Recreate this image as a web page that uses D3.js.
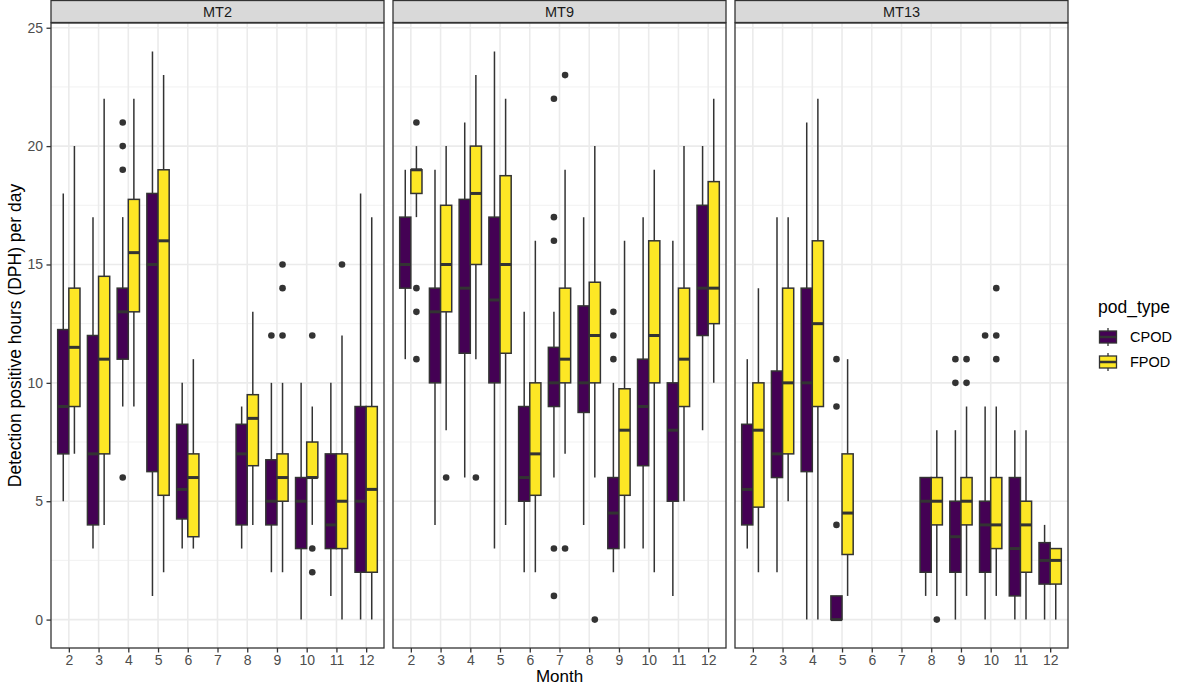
<!DOCTYPE html>
<html>
<head>
<meta charset="utf-8">
<script src="https://cdn.jsdelivr.net/npm/d3@7"></script>
<style>
  html, body { margin: 0; padding: 0; background: #ffffff; }
  svg { display: block; font-family: "Liberation Sans", Arial, sans-serif; }
</style>
</head>
<body>
<svg id="chart" width="1179" height="686"></svg>
<script>
// ---- data -------------------------------------------------------------
const sites = ["MT2", "MT9", "MT13"];
const months = [2, 3, 4, 5, 6, 7, 8, 9, 10, 11, 12];
const podTypes = ["CPOD", "FPOD"];
const podColors = ["#440154", "#FDE725"];
const yTicks = [0, 5, 10, 15, 20, 25];
const yMinorTicks = [2.5, 7.5, 12.5, 17.5, 22.5];

// box statistics per month: [month, lower whisker, Q1, median, Q3, upper whisker]
const mt2CPOD = [
  [2, 5, 7, 9, 12.25, 18], [3, 3, 4, 7, 12, 17], [4, 9, 11, 13, 14, 17],
  [5, 1, 6.25, 15, 18, 24], [6, 3, 4.25, 5.5, 8.25, 10], [8, 3, 4, 7, 8.25, 9],
  [9, 2, 4, 5, 6.75, 10], [10, 0, 3, 5, 6, 10], [11, 1, 3, 4, 7, 10],
  [12, 0, 2, 5, 9, 18]
];
const mt2FPOD = [
  [2, 7, 9, 11.5, 14, 20], [3, 4, 7, 11, 14.5, 22], [4, 9, 13, 15.5, 17.75, 22],
  [5, 2, 5.25, 16, 19, 23], [6, 3, 3.5, 6, 7, 11], [8, 4, 6.5, 8.5, 9.5, 13],
  [9, 2, 5, 6, 7, 10], [10, 4, 6, 6, 7.5, 9], [11, 0, 3, 5, 7, 12],
  [12, 0, 2, 5.5, 9, 17]
];
const mt9CPOD = [
  [2, 11, 14, 15, 17, 19], [3, 4, 10, 13, 14, 19], [4, 6, 11.25, 14, 17.75, 21],
  [5, 3, 10, 13.5, 17, 24], [6, 2, 5, 6, 9, 13], [7, 6, 9, 10, 11.5, 13],
  [8, 4, 8.75, 10, 13.25, 17], [9, 2, 3, 4.5, 6, 10], [10, 3, 6.5, 9, 11, 17],
  [11, 1, 5, 8, 10, 16], [12, 8, 12, 14, 17.5, 20]
];
const mt9FPOD = [
  [2, 17, 18, 19, 19, 20], [3, 8, 13, 15, 17.5, 20], [4, 11, 15, 18, 20, 23],
  [5, 4, 11.25, 15, 18.75, 22], [6, 2, 5.25, 7, 10, 16], [7, 7, 10, 11, 14, 19],
  [8, 6, 10, 12, 14.25, 20], [9, 3, 5.25, 8, 9.75, 16], [10, 2, 10, 12, 16, 19],
  [11, 5, 9, 11, 14, 20], [12, 10, 12.5, 14, 18.5, 22]
];
const mt13CPOD = [
  [2, 3, 4, 5.5, 8.25, 11], [3, 2, 6, 7, 10.5, 17], [4, 0, 6.25, 10, 14, 21],
  [5, 0, 0, 0, 1, 1], [8, 1, 2, 5, 6, 6], [9, 0, 2, 3.5, 5, 8],
  [10, 0, 2, 4, 5, 9], [11, 0, 1, 3, 6, 8], [12, 0, 1.5, 2.5, 3.25, 4]
];
const mt13FPOD = [
  [2, 2, 4.75, 8, 10, 14], [3, 5, 7, 10, 14, 17], [4, 0, 9, 12.5, 16, 22],
  [5, 1, 2.75, 4.5, 7, 11], [8, 1, 4, 5, 6, 8], [9, 1, 4, 5, 6, 9],
  [10, 1, 3, 4, 6, 9], [11, 0, 2, 4, 5, 8], [12, 0, 1.5, 2.5, 3, 3]
];

// outlying days: [month, DPH]
const mt2CPODOut = [[4, 21], [4, 20], [4, 19], [4, 6], [9, 12]];
const mt2FPODOut = [[9, 15], [9, 14], [9, 12], [10, 12], [10, 3], [10, 2], [11, 15]];
const mt9CPODOut = [[7, 22], [7, 17], [7, 16], [7, 3], [7, 1], [9, 13], [9, 12], [9, 11]];
const mt9FPODOut = [[2, 21], [2, 14], [2, 13], [2, 11], [3, 6], [4, 6], [7, 23], [7, 3], [8, 0]];
const mt13CPODOut = [[5, 11], [5, 9], [5, 4], [9, 11], [9, 10], [10, 12]];
const mt13FPODOut = [[8, 0], [9, 11], [9, 10], [10, 14], [10, 12], [10, 11]];

const boxData = {
  MT2: [mt2CPOD, mt2FPOD], MT9: [mt9CPOD, mt9FPOD], MT13: [mt13CPOD, mt13FPOD]
};
const outData = {
  MT2: [mt2CPODOut, mt2FPODOut], MT9: [mt9CPODOut, mt9FPODOut], MT13: [mt13CPODOut, mt13FPODOut]
};

// ---- layout -----------------------------------------------------------
const svg = d3.select("#chart");
const plotLeft = 51, plotRight = 1068;
const panelGap = 9;
const panelW = (plotRight - plotLeft - panelGap * 2) / 3;
const stripTop = 0.5, stripH = 22;
const panelTop = 23, panelBottom = 648;
const ink = "#333333";

const y = d3.scaleLinear().domain([-1.2, 25.2]).range([panelBottom, panelTop]);
const x = d3.scalePoint().domain(months).range([0, panelW]).padding(0.6);
const dodge = d3.scaleBand().domain(podTypes).range([-0.375 * x.step(), 0.375 * x.step()]);
const boxW = dodge.bandwidth();

sites.forEach((site, si) => {
  const px = plotLeft + si * (panelW + panelGap);
  const g = svg.append("g").attr("transform", `translate(${px},0)`);

  // panel background + grid
  g.append("rect").attr("x", 0).attr("y", panelTop).attr("width", panelW)
    .attr("height", panelBottom - panelTop).attr("fill", "#ffffff");
  g.selectAll("line.ygminor").data(yMinorTicks).join("line")
    .attr("x1", 0).attr("x2", panelW)
    .attr("y1", d => y(d)).attr("y2", d => y(d))
    .attr("stroke", "#EEEEEE").attr("stroke-width", 0.8);
  g.selectAll("line.ygmajor").data(yTicks).join("line")
    .attr("x1", 0).attr("x2", panelW)
    .attr("y1", d => y(d)).attr("y2", d => y(d))
    .attr("stroke", "#EBEBEB").attr("stroke-width", 1.6);
  g.selectAll("line.xgmajor").data(months).join("line")
    .attr("x1", d => x(d)).attr("x2", d => x(d))
    .attr("y1", panelTop).attr("y2", panelBottom)
    .attr("stroke", "#EBEBEB").attr("stroke-width", 1.6);

  // outliers
  podTypes.forEach((pt, pi) => {
    g.selectAll(null).data(outData[site][pi]).join("circle")
      .attr("cx", d => x(d[0]) + dodge(pt) + boxW / 2)
      .attr("cy", d => y(d[1]))
      .attr("r", 3.3)
      .attr("fill", ink);
  });

  // boxes
  podTypes.forEach((pt, pi) => {
    const rows = boxData[site][pi];
    const grp = g.append("g");
    grp.selectAll(null).data(rows).join("line")
      .attr("x1", d => x(d[0]) + dodge(pt) + boxW / 2)
      .attr("x2", d => x(d[0]) + dodge(pt) + boxW / 2)
      .attr("y1", d => y(d[1])).attr("y2", d => y(d[5]))
      .attr("stroke", ink).attr("stroke-width", 1.5);
    grp.selectAll(null).data(rows).join("rect")
      .attr("x", d => x(d[0]) + dodge(pt))
      .attr("width", boxW)
      .attr("y", d => y(d[4]))
      .attr("height", d => y(d[2]) - y(d[4]))
      .attr("fill", podColors[pi])
      .attr("stroke", ink).attr("stroke-width", 1.5);
    grp.selectAll(null).data(rows).join("line")
      .attr("x1", d => x(d[0]) + dodge(pt))
      .attr("x2", d => x(d[0]) + dodge(pt) + boxW)
      .attr("y1", d => y(d[3])).attr("y2", d => y(d[3]))
      .attr("stroke", ink).attr("stroke-width", 3);
  });

  // panel border
  g.append("rect").attr("x", 0).attr("y", panelTop).attr("width", panelW)
    .attr("height", panelBottom - panelTop).attr("fill", "none")
    .attr("stroke", ink).attr("stroke-width", 1.3);

  // strip
  g.append("rect").attr("x", 0).attr("y", stripTop).attr("width", panelW)
    .attr("height", stripH).attr("fill", "#D9D9D9")
    .attr("stroke", ink).attr("stroke-width", 1.3);
  g.append("text").attr("x", panelW / 2).attr("y", stripTop + stripH / 2)
    .attr("dy", "0.35em").attr("text-anchor", "middle")
    .attr("font-size", 14.5).attr("fill", "#1A1A1A").text(site);

  // x axis
  const xa = g.append("g").attr("transform", `translate(0,${panelBottom})`)
    .call(d3.axisBottom(x).tickSize(4.5).tickPadding(3));
  xa.select(".domain").remove();
  xa.selectAll(".tick line").attr("stroke", ink).attr("stroke-width", 1.3);
  xa.selectAll(".tick text").attr("fill", "#4D4D4D").attr("font-size", 14)
    .attr("font-family", "Liberation Sans, Arial, sans-serif");

  // y axis on first panel only
  if (si === 0) {
    const ya = g.append("g")
      .call(d3.axisLeft(y).tickValues(yTicks).tickSize(4.5).tickPadding(3.5));
    ya.select(".domain").remove();
    ya.selectAll(".tick line").attr("stroke", ink).attr("stroke-width", 1.3);
    ya.selectAll(".tick text").attr("fill", "#4D4D4D").attr("font-size", 14)
      .attr("font-family", "Liberation Sans, Arial, sans-serif");
  }
});

// axis titles
svg.append("text")
  .attr("x", (plotLeft + plotRight) / 2).attr("y", 682)
  .attr("text-anchor", "middle").attr("font-size", 17).attr("fill", "#000")
  .text("Month");
svg.append("text")
  .attr("transform", `translate(21,${(panelTop + panelBottom) / 2}) rotate(-90)`)
  .attr("text-anchor", "middle").attr("font-size", 17.5).attr("fill", "#000")
  .text("Detection positive hours (DPH) per day");

// legend
const lg = svg.append("g").attr("transform", "translate(1098,0)");
lg.append("text").attr("x", 0).attr("y", 313).attr("font-size", 17.5)
  .attr("fill", "#000").text("pod_type");
podTypes.forEach((pt, i) => {
  const cy = 337 + i * 25;
  const kg = lg.append("g");
  kg.append("line").attr("x1", 10).attr("x2", 10).attr("y1", cy - 9).attr("y2", cy + 9)
    .attr("stroke", ink).attr("stroke-width", 1.3);
  kg.append("rect").attr("x", 1.5).attr("y", cy - 6).attr("width", 17).attr("height", 12)
    .attr("fill", podColors[i]).attr("stroke", ink).attr("stroke-width", 1.3);
  kg.append("line").attr("x1", 1.5).attr("x2", 18.5).attr("y1", cy).attr("y2", cy)
    .attr("stroke", ink).attr("stroke-width", 2.5);
  lg.append("text").attr("x", 32).attr("y", cy).attr("dy", "0.35em")
    .attr("font-size", 14.5).attr("fill", "#000").text(pt);
});
</script>
</body>
</html>
